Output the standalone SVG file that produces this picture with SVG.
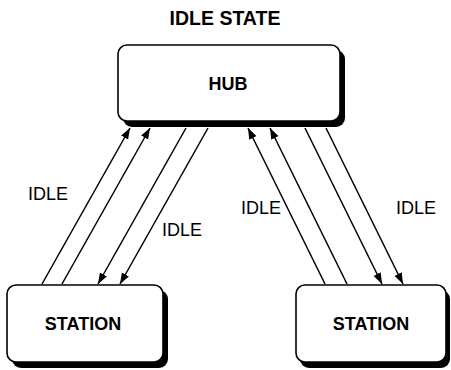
<svg xmlns="http://www.w3.org/2000/svg" width="451" height="370" viewBox="0 0 451 370">
<style>
.box{fill:#fff;stroke:#000;stroke-width:1.6}
.shadow{fill:#000}
.lbl{font-family:"Liberation Sans",Arial,sans-serif;font-size:18px;fill:#000}
.b{font-weight:bold}
.c{stroke:#000;stroke-width:1.5;fill:none}
</style>
<defs>
<marker id="ah" markerUnits="userSpaceOnUse" markerWidth="12" markerHeight="10" refX="11" refY="4" orient="auto">
<path d="M0,0 L11,4 L0,8 Z" fill="#000"/>
</marker>
</defs>
<text class="lbl b" x="225" y="25" text-anchor="middle" font-size="19.5" style="font-size:19.5px">IDLE STATE</text>
<g id="hub">
<rect class="shadow" x="123" y="50" width="222" height="77" rx="9"/>
<rect class="box" x="118" y="45" width="222" height="76" rx="9"/>
<text class="lbl b" x="228" y="90" text-anchor="middle">HUB</text>
</g>
<g id="station1">
<rect class="shadow" x="12" y="290" width="156" height="78" rx="9"/>
<rect class="box" x="7" y="285" width="156" height="77" rx="9"/>
<text class="lbl b" x="83" y="330" text-anchor="middle">STATION</text>
</g>
<g id="station2">
<rect class="shadow" x="300" y="290" width="150" height="78" rx="9"/>
<rect class="box" x="296" y="285" width="150" height="77" rx="9"/>
<text class="lbl b" x="371" y="330" text-anchor="middle">STATION</text>
</g>
<g id="connectors">
<line class="c" x1="42" y1="284" x2="130" y2="128" marker-end="url(#ah)"/>
<line class="c" x1="62" y1="284" x2="150" y2="128" marker-end="url(#ah)"/>
<line class="c" x1="186" y1="128" x2="98" y2="284" marker-end="url(#ah)"/>
<line class="c" x1="208" y1="128" x2="120" y2="284" marker-end="url(#ah)"/>
<line class="c" x1="325" y1="284" x2="248" y2="128" marker-end="url(#ah)"/>
<line class="c" x1="347" y1="284" x2="270" y2="128" marker-end="url(#ah)"/>
<line class="c" x1="305" y1="128" x2="382" y2="284" marker-end="url(#ah)"/>
<line class="c" x1="326" y1="128" x2="403" y2="284" marker-end="url(#ah)"/>
<text class="lbl" x="28" y="200">IDLE</text>
<text class="lbl" x="162" y="236">IDLE</text>
<text class="lbl" x="241" y="214">IDLE</text>
<text class="lbl" x="396" y="214">IDLE</text>
</g>
</svg>
